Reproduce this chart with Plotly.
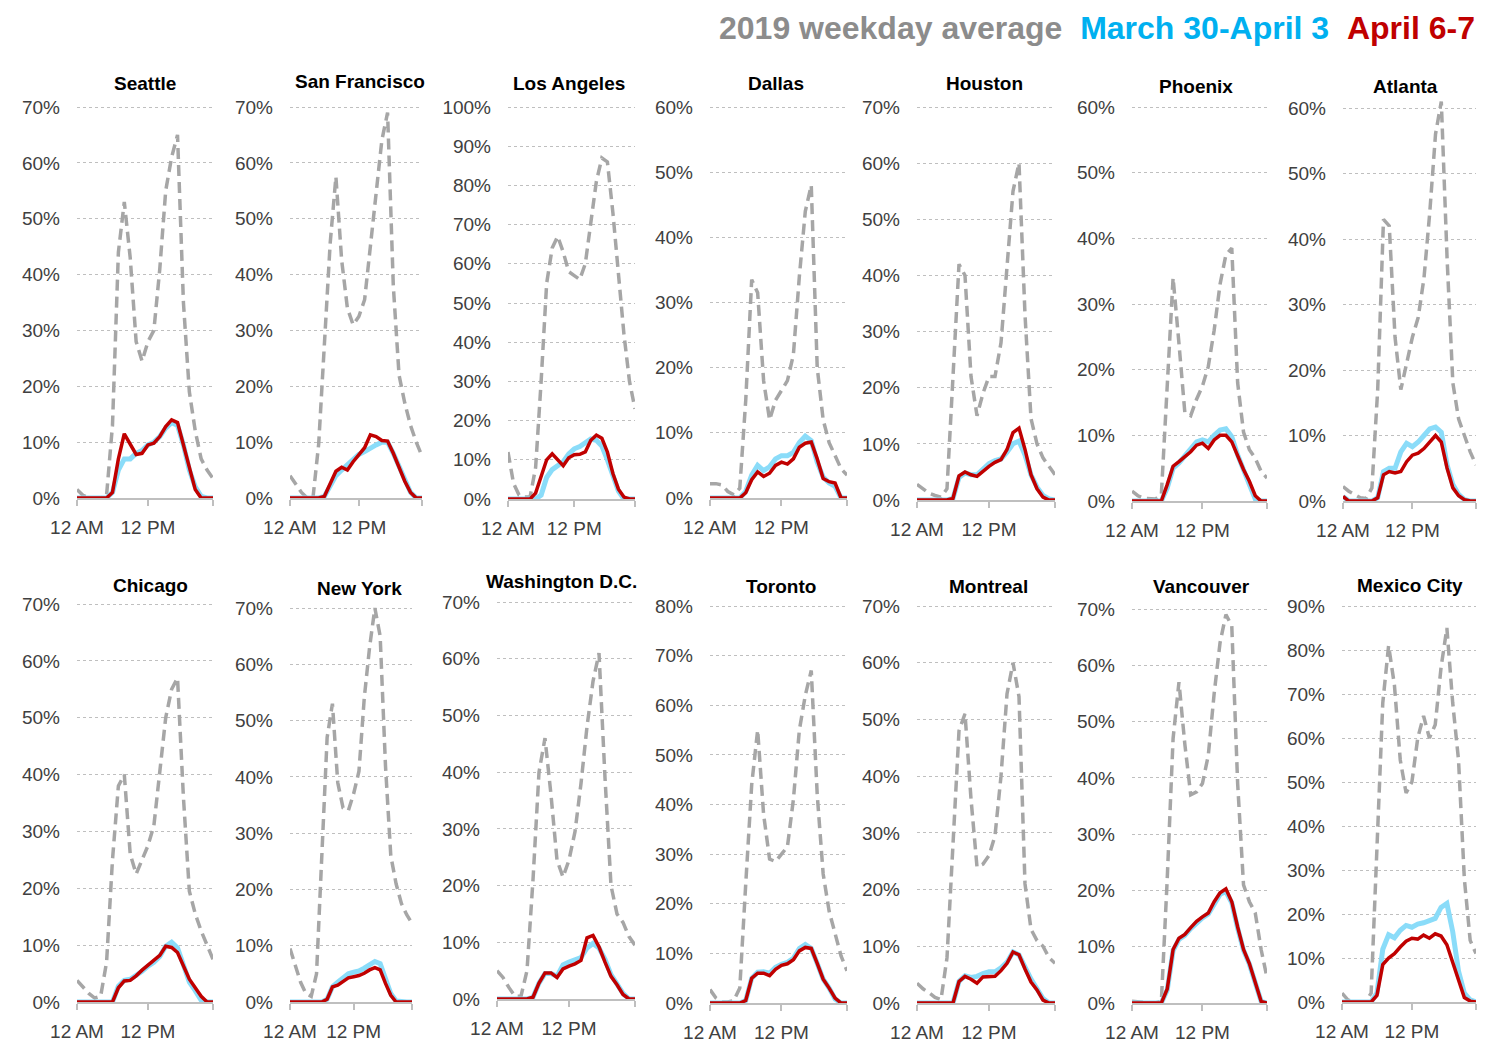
import plotly.graph_objects as go

# hourly share of trips (%), hour 0 = 12 AM
hours = list(range(24))

seattle_2019 = [1.5, 0.5, 0, 0, 0, 0.5, 13, 44, 53, 43, 28, 24.5, 28, 30, 41, 55, 61, 65, 35, 19, 12, 7, 5, 3.5]
seattle_mar = [0, 0, 0, 0, 0, 0, 1, 5, 7, 7, 8, 8.5, 9.5, 10, 11, 12.5, 13.5, 13, 9.5, 5, 2, 0.3, 0, 0]
seattle_apr = [0, 0, 0, 0, 0, 0, 1, 7, 11.5, 9.5, 7.8, 8, 9.5, 9.8, 11, 12.8, 14, 13.5, 9.5, 5, 1.5, 0, 0, 0]

sf_2019 = [4, 2.5, 1, 0, 0, 9.7, 27.7, 45.6, 57.5, 42.6, 34, 31, 32.5, 35.5, 45, 54.6, 64, 69, 38, 22, 17, 13, 10, 7.5]
sf_mar = [0, 0, 0, 0, 0, 0, 0.3, 2, 4, 5, 6, 7, 7.8, 8.3, 9, 9.5, 10, 10, 8, 5.5, 3, 1, 0, 0]
sf_apr = [0, 0, 0, 0, 0, 0, 0.3, 2.5, 4.8, 5.5, 5, 6.5, 7.7, 9, 11.3, 11, 10.3, 10.2, 8, 5.5, 3, 1, 0, 0]

la_2019 = [12, 4, 1, 0.5, 0.5, 8, 30, 55, 64, 67, 63, 58, 57, 56, 60, 70, 81, 87, 86, 73, 57, 42, 30, 23]
la_mar = [0, 0, 0, 0, 0, 0, 1, 5.5, 7.5, 8.5, 9.5, 11.5, 12.8, 13.4, 14.5, 15.3, 15, 13.5, 10, 5.5, 2, 0, 0, 0]
la_apr = [0, 0, 0, 0, 0, 1.5, 6, 10, 11.5, 10, 8.5, 10.5, 11.3, 11.4, 12, 15, 16.3, 15.5, 12, 6.5, 2.5, 0.5, 0, 0]

dallas_2019 = [2.2, 2.2, 2, 1, 0.5, 1.5, 15, 33.5, 31.5, 18, 12, 15, 16.5, 18, 22, 34, 44, 48, 20, 12, 8.5, 6.5, 4.5, 3.5]
dallas_mar = [0, 0, 0, 0, 0, 0, 1, 3.5, 5, 4.2, 4.8, 6, 6.5, 6.5, 7, 8.5, 9.5, 8.8, 5.5, 3.2, 2.3, 1.8, 0, 0]
dallas_apr = [0, 0, 0, 0, 0, 0, 0.8, 2.8, 4, 3.3, 3.8, 5, 5.5, 5.2, 6, 7.8, 8.4, 8.6, 6, 3, 2.5, 2.3, 0, 0]

houston_2019 = [2.8, 2, 1.2, 0.8, 0.5, 2, 22, 42, 40, 22, 15, 19, 22, 22, 28, 42, 55, 60, 33, 14.5, 10, 7.5, 6, 4.5]
houston_mar = [0, 0, 0, 0, 0, 0, 0.3, 4, 4.8, 4.5, 4.5, 5.5, 6.5, 7, 7.3, 8.5, 10, 10.5, 8, 4.5, 2.3, 0.8, 0.2, 0]
houston_apr = [0, 0, 0, 0, 0, 0, 0.3, 4.3, 5, 4.5, 4.2, 5.2, 6, 6.7, 7.2, 9, 12, 12.8, 9, 4.5, 2, 0.5, 0, 0]

phoenix_2019 = [1.5, 0.8, 0.4, 0.3, 0.3, 1, 18, 34, 24, 13.5, 13, 15.5, 17.5, 20.5, 26, 33, 37.5, 38.5, 18, 10.5, 7.8, 6.5, 4.5, 3.5]
phoenix_mar = [0, 0, 0, 0, 0, 0, 2, 5, 5.8, 6.8, 8, 9, 9.3, 9, 10, 10.8, 11, 9.8, 7, 4.5, 2.5, 0.3, 0, 0]
phoenix_apr = [0, 0, 0, 0, 0, 0, 2.5, 5.3, 6, 6.7, 7.5, 8.5, 8.8, 8, 9.3, 10, 10, 9, 6.8, 4.8, 3, 0.8, 0, 0]

atlanta_2019 = [2.2, 1.5, 1, 0.5, 0.4, 2, 17, 43, 42, 25, 17, 21, 25, 28, 34, 44, 56, 61, 37, 18, 12.5, 10, 7.5, 5.5]
atlanta_mar = [0.7, 0, 0, 0, 0, 0, 0.5, 4.5, 5, 5, 7.5, 8.8, 8.3, 9, 10, 11, 11.3, 10.5, 5.5, 2.5, 1, 0.2, 0, 0]
atlanta_apr = [0.7, 0, 0, 0, 0, 0, 0.5, 4, 4.5, 4.3, 4.5, 6, 7, 7.3, 8, 9, 10, 9, 5, 2, 0.8, 0.2, 0, 0]

chicago_2019 = [3.8, 2.7, 1.5, 0.7, 1, 7, 25, 38, 40, 26, 22.5, 25, 27.5, 31, 40, 50, 55, 57, 36, 19.5, 15.5, 12.5, 10, 7.5]
chicago_mar = [0, 0, 0, 0, 0, 0, 0, 2.8, 3.8, 4, 4.6, 5.4, 6.3, 7, 8, 9.8, 10.5, 9.5, 6.5, 3.5, 2, 0.3, 0, 0]
chicago_apr = [0, 0, 0, 0, 0, 0, 0, 2.5, 3.7, 3.8, 4.6, 5.6, 6.5, 7.2, 8.2, 9.8, 9.6, 8.7, 6.5, 4, 2.5, 1, 0, 0]

newyork_2019 = [9.5, 6.5, 3.5, 1.5, 1, 5, 26, 47, 53, 39, 34.5, 34, 37, 41, 54, 63, 70, 65, 42, 26, 21, 17.5, 15.5, 14]
newyork_mar = [0, 0, 0, 0, 0, 0, 0, 0.5, 2.7, 3.5, 4.3, 5, 5.3, 5.5, 6, 6.5, 7.2, 6.8, 4, 1.5, 0.2, 0, 0, 0]
newyork_apr = [0, 0, 0, 0, 0, 0, 0, 0.5, 2.7, 3, 3.6, 4.3, 4.5, 4.7, 5.1, 5.7, 6.1, 5.7, 3.3, 1.2, 0, 0, 0, 0]

dc_2019 = [5, 3.8, 2, 0.5, 0.5, 5, 21, 40, 46, 36, 24.5, 21.5, 24.5, 29.5, 38, 48, 56, 61, 39, 20, 15, 13.5, 11, 9.5]
dc_mar = [0, 0, 0, 0, 0, 0, 0.3, 2.8, 4.5, 4.5, 4, 6, 6.5, 6.8, 7.3, 9, 9.8, 9, 7, 4.3, 2.5, 1, 0, 0]
dc_apr = [0, 0, 0, 0, 0, 0, 0.3, 2.8, 4.6, 4.6, 3.8, 5.3, 5.8, 6.2, 6.8, 10.8, 11.2, 9.2, 6.5, 4, 2.5, 0.8, 0, 0]

toronto_2019 = [2.7, 1, 0.2, 0.2, 0.5, 3, 24, 44, 55, 38, 29, 28.5, 30, 31.5, 41, 55, 62, 67, 42, 26, 18.5, 14, 9.5, 6.5]
toronto_mar = [0, 0, 0, 0, 0, 0, 0.5, 5, 6.2, 6.3, 6, 7.2, 7.8, 8.2, 9, 11, 11.8, 11, 8, 4.8, 3, 0.8, 0, 0]
toronto_apr = [0, 0, 0, 0, 0, 0, 0.5, 5, 6, 6, 5.5, 6.8, 7.6, 7.9, 8.7, 10.5, 11.2, 11, 8, 4.8, 3, 1, 0, 0]

montreal_2019 = [3.5, 2.5, 1.8, 1, 0.6, 8, 28, 48, 51, 36, 24, 24.5, 26, 29.5, 40, 54.5, 60, 54, 21, 13, 11, 10, 8, 7]
montreal_mar = [0, 0, 0, 0, 0, 0, 0, 3.8, 4.8, 4.5, 4.7, 5.2, 5.5, 5.5, 6.2, 7.2, 9, 8.5, 6.3, 4.2, 2.5, 0.8, 0, 0]
montreal_apr = [0, 0, 0, 0, 0, 0, 0, 3.8, 4.7, 4.2, 3.5, 4.6, 4.7, 4.7, 5.7, 7, 9, 8.5, 6, 3.7, 2.3, 0.5, 0, 0]

vancouver_2019 = [0.3, 0.2, 0, 0, 0, 0.3, 22, 47, 57, 46, 37, 37.5, 39, 44, 55, 64, 69, 67, 39, 21, 18, 16, 9.5, 4.5]
vancouver_mar = [0, 0, 0, 0, 0, 0, 2.3, 9.3, 11.3, 12, 13.2, 14.3, 15.1, 15.8, 17.7, 19.3, 19.8, 17.8, 13.3, 9.4, 6.9, 3.4, 0.3, 0]
vancouver_apr = [0, 0, 0, 0, 0, 0, 2.5, 9.5, 11.5, 12.2, 13.4, 14.5, 15.3, 16, 18, 19.6, 20.3, 18, 13.5, 9.5, 7, 3.5, 0.3, 0]

mexico_2019 = [2, 0.5, 0, 0, 0, 2, 36, 68, 81, 72, 55, 47.5, 50, 60, 65, 60, 63, 76, 85, 68, 55, 28, 14, 11]
mexico_mar = [0, 0, 0, 0, 0, 0, 2, 12, 15.3, 14.6, 16.3, 17.4, 17, 17.7, 18, 18.4, 19, 21.5, 22.4, 16, 7, 2, 0.5, 0]
mexico_apr = [0, 0, 0, 0, 0, 0, 1.5, 8.5, 10, 11, 12.5, 13.8, 14.5, 14.3, 15.2, 14.5, 15.5, 15, 13, 9, 4.5, 1, 0.2, 0]

city_names = ['Seattle', 'San Francisco', 'Los Angeles', 'Dallas', 'Houston', 'Phoenix', 'Atlanta',
              'Chicago', 'New York', 'Washington D.C.', 'Toronto', 'Montreal', 'Vancouver', 'Mexico City']
axis_max = [70, 70, 100, 60, 70, 60, 60, 70, 70, 70, 80, 70, 70, 90]

series = [
    (seattle_2019, seattle_mar, seattle_apr),
    (sf_2019, sf_mar, sf_apr),
    (la_2019, la_mar, la_apr),
    (dallas_2019, dallas_mar, dallas_apr),
    (houston_2019, houston_mar, houston_apr),
    (phoenix_2019, phoenix_mar, phoenix_apr),
    (atlanta_2019, atlanta_mar, atlanta_apr),
    (chicago_2019, chicago_mar, chicago_apr),
    (newyork_2019, newyork_mar, newyork_apr),
    (dc_2019, dc_mar, dc_apr),
    (toronto_2019, toronto_mar, toronto_apr),
    (montreal_2019, montreal_mar, montreal_apr),
    (vancouver_2019, vancouver_mar, vancouver_apr),
    (mexico_2019, mexico_mar, mexico_apr),
]

# page body has an 8px margin, so the figure is a bit smaller and shifted
OFF = 8
W, H = 1507 - OFF, 1045 - OFF
# plot boxes in screen pixels: left, right, top gridline, zero line
boxes = [
    (77, 213, 107, 498), (290, 422, 107, 498), (508, 635, 107, 499), (710, 847, 107, 498),
    (917, 1055, 107, 500), (1132, 1267, 107, 501), (1343, 1476, 108, 501),
    (77, 213, 604, 1002), (290, 412, 608, 1002), (497, 635, 602, 999), (710, 847, 606, 1003),
    (917, 1055, 606, 1003), (1132, 1267, 609, 1003), (1342, 1476, 606, 1002),
]
title_pos = [(145, 83), (360, 80), (569, 82), (776, 83), (984, 83), (1196, 86), (1405, 85),
             (150, 584), (359, 587), (561, 580), (781, 585), (988, 585), (1201, 585), (1410, 584)]


def fx(p):
    return (p - OFF) / W


def fy(p):
    return 1 - (p - OFF) / H


FONT = 'Liberation Sans, Arial'
GREY, BLUE, RED = '#A6A6A6', '#8ADCF9', '#C00000'

fig = go.Figure()
layout = {}
annotations = []
pad = 0.03

for i, name in enumerate(city_names):
    n = '' if i == 0 else str(i + 1)
    xa, ya = 'x' + n, 'y' + n
    l, r, t, b = boxes[i]
    ymax = axis_max[i]
    top = b - (b - t) * (1 + pad)
    g, m, a = series[i]
    fig.add_trace(go.Scatter(x=hours, y=g, mode='lines', xaxis=xa, yaxis=ya,
                             line=dict(color=GREY, width=3.5, dash='11px,6px'), showlegend=False))
    fig.add_trace(go.Scatter(x=hours, y=m, mode='lines', xaxis=xa, yaxis=ya,
                             line=dict(color=BLUE, width=5), showlegend=False))
    fig.add_trace(go.Scatter(x=hours, y=a, mode='lines', xaxis=xa, yaxis=ya,
                             line=dict(color=RED, width=3.5), showlegend=False))
    yt = list(range(0, ymax + 1, 10))
    layout['xaxis' + n] = dict(
        domain=[fx(l), fx(r)], anchor=ya, range=[0, 23], automargin=False,
        tickvals=[0, 12, 23], ticktext=['12 AM', '12 PM', ''], tickangle=0,
        ticks='outside', ticklen=6, tickcolor='#BFBFBF', tickwidth=1.5,
        showline=True, linecolor='#BFBFBF', linewidth=1.5,
        showgrid=False, zeroline=False, ticklabelstandoff=5,
        tickfont=dict(family=FONT, size=19, color='#404040'),
    )
    layout['yaxis' + n] = dict(
        domain=[fy(b), fy(top)], anchor=xa, range=[0, ymax * (1 + pad)], automargin=False,
        tickvals=yt, ticktext=[f'{v}%' for v in yt],
        showgrid=True, gridcolor='#BFBFBF', griddash='dot', gridwidth=1,
        zeroline=False, showline=False, ticks='', ticklabelstandoff=16,
        tickfont=dict(family=FONT, size=19, color='#404040'),
    )
    tx, ty = title_pos[i]
    annotations.append(dict(
        text='<b>' + name + '</b>', x=fx(tx), y=fy(ty + 1), xref='paper', yref='paper',
        xanchor='center', yanchor='middle', showarrow=False,
        font=dict(family=FONT, size=19, color='#000000'),
    ))

annotations.append(dict(
    text="<b><span style='color:#8C8C8C'>2019 weekday average</span>&nbsp;&nbsp;"
         "<span style='color:#00B0F0'>March 30-April 3</span>&nbsp;&nbsp;"
         "<span style='color:#C00000'>April 6-7</span></b>",
    x=fx(1476), y=fy(28), xref='paper', yref='paper', xanchor='right', yanchor='middle',
    showarrow=False, borderpad=0, font=dict(family=FONT, size=32),
))

fig.update_layout(
    width=W, height=H, margin=dict(l=0, r=0, t=0, b=0),
    plot_bgcolor='white', paper_bgcolor='white',
    annotations=annotations, **layout,
)

fig.write_html('out.html')
